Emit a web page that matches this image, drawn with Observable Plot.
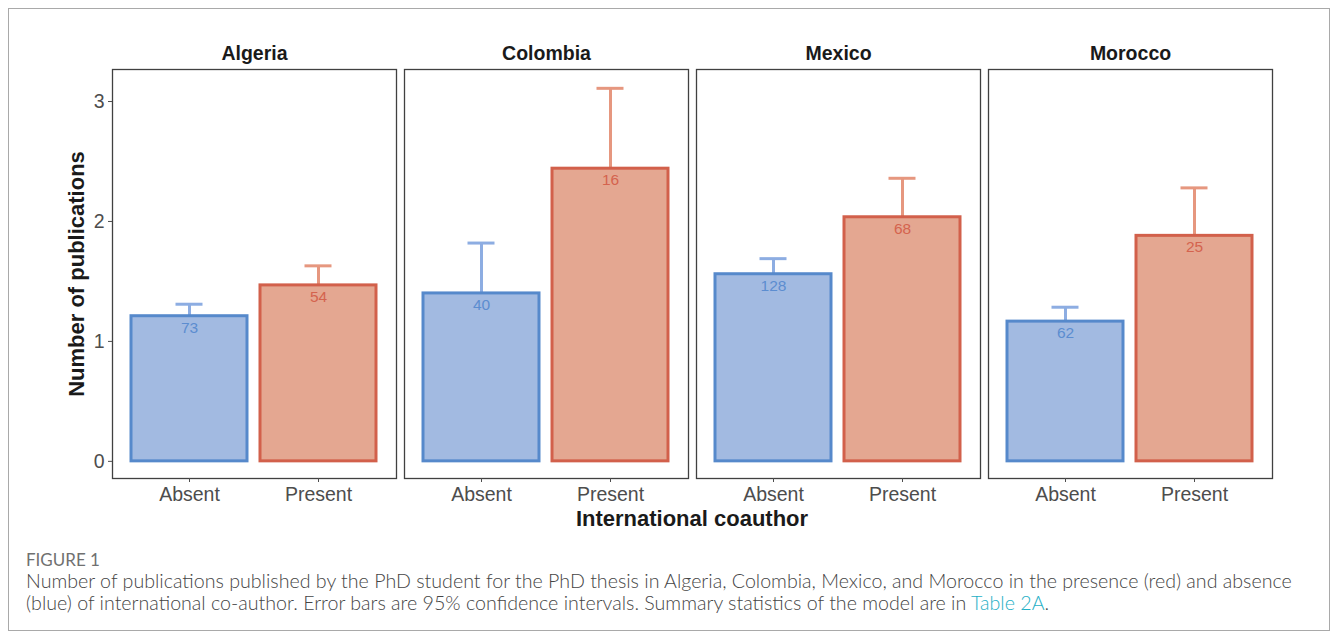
<!DOCTYPE html>
<html>
<head>
<meta charset="utf-8">
<script src="https://cdn.jsdelivr.net/npm/d3@7"></script>
<script src="https://cdn.jsdelivr.net/npm/@observablehq/plot@0.6"></script>
<style>
  body { margin: 0; background: #fff; }
  #wrap { position: relative; width: 1333px; height: 639px; overflow: hidden; background: #fff; }
  #chart { position: absolute; left: 0; top: 0; }
  #chart svg { background: transparent; }
  #frame { position: absolute; left: 8px; top: 8px; width: 1322px; height: 623px; box-sizing: border-box;
           border: 1px solid #a9a9a9; pointer-events: none; }
  .t { position: absolute; white-space: nowrap; line-height: 1; }
  .axt { font-family: "Liberation Sans", Arial, sans-serif; font-weight: bold; font-size: 22px; color: #1a1a1a; }
  .cap { font-family: Lato, "Open Sans", sans-serif; font-weight: 300; color: #454545; font-size: 17px; }
  .fig { font-family: Lato, "Open Sans", sans-serif; font-weight: 400; color: #707070; font-size: 13px; }
  .link { color: #1fb0c6; }
</style>
</head>
<body>
<div id="wrap">
  <div id="chart"></div>
  <div id="ylab" class="t axt">Number of publications</div>
  <div id="xlab" class="t axt">International coauthor</div>
  <div id="fig" class="t fig">FIGURE 1</div>
  <div id="c1" class="t cap">Number of publications published by the PhD student for the PhD thesis in Algeria, Colombia, Mexico, and Morocco in the presence (red) and absence</div>
  <div id="c2" class="t cap">(blue) of international co-author. Error bars are 95% confidence intervals. Summary statistics of the model are in <span class="link">Table 2A</span>.</div>
  <div id="frame"></div>
</div>
<script>
// ---- data ----
const countries = ["Algeria", "Colombia", "Mexico", "Morocco"];
const coauthor = ["Absent", "Present"];
const meanAbsent = [1.21, 1.40, 1.56, 1.165];
const meanPresent = [1.467, 2.44, 2.035, 1.88];
const upperAbsent = [1.31, 1.82, 1.69, 1.285];
const upperPresent = [1.63, 3.11, 2.36, 2.28];
const nAbsent = [73, 40, 128, 62];
const nPresent = [54, 16, 68, 25];
const yTicks = [0, 1, 2, 3];

// ---- styles ----
const fillC = {Absent: "#a2bae1", Present: "#e4a791"};
const strokeC = {Absent: "#5689cb", Present: "#d2604b"};
const errC = {Absent: "#8dade2", Present: "#e6977f"};
const textC = {Absent: "#5c8dd0", Present: "#d4634e"};

const rows = [];
countries.forEach((c, i) => {
  rows.push({country: c, coauthor: "Absent", mean: meanAbsent[i], upper: upperAbsent[i], n: nAbsent[i]});
  rows.push({country: c, coauthor: "Present", mean: meanPresent[i], upper: upperPresent[i], n: nPresent[i]});
});

const chart = Plot.plot({
  width: 1333,
  height: 540,
  marginLeft: 112,
  marginRight: 61,
  marginTop: 69,
  marginBottom: 62,
  style: {background: "transparent", fontFamily: "'Liberation Sans', Arial, sans-serif"},
  fx: {domain: countries, paddingInner: 8 / 292, paddingOuter: 0, axis: null, label: null},
  x: {domain: coauthor, paddingInner: 0.1, paddingOuter: 0.15, label: null},
  y: {domain: [-0.143, 3.267], label: null},
  color: {type: "identity"},
  marks: [
    Plot.frame({stroke: "#404040", strokeWidth: 1.3}),
    Plot.ruleX(rows, {fx: "country", x: "coauthor", y1: "mean", y2: "upper",
      stroke: d => errC[d.coauthor], strokeWidth: 3}),
    Plot.tickY(rows, {fx: "country", x: "coauthor", y: "upper",
      stroke: d => errC[d.coauthor], strokeWidth: 3, insetLeft: 44.5, insetRight: 44.5}),
    Plot.barY(rows, {fx: "country", x: "coauthor", y: "mean",
      fill: d => fillC[d.coauthor], stroke: d => strokeC[d.coauthor], strokeWidth: 3}),
    Plot.text(rows, {fx: "country", x: "coauthor", y: "mean", text: "n", dy: 11.5,
      fill: d => textC[d.coauthor], fontSize: 15.5}),
    Plot.text(countries, {fx: d => d, text: d => d, frameAnchor: "top", lineAnchor: "middle", dy: -16,
      fontSize: 19.5, fontWeight: "bold", fill: "#1a1a1a"}),
    Plot.axisY({ticks: yTicks, tickFormat: d3.format("d"), tickSize: 4, tickPadding: 4, fontSize: 19.5,
      color: "#4d4d4d", label: null}),
    Plot.axisX({tickSize: 4, tickPadding: 5, fontSize: 19.5, color: "#4d4d4d", label: null})
  ]
});
document.getElementById("chart").appendChild(chart);

// ---- text placement ----
function fitWidth(el, target) {
  const fs = parseFloat(getComputedStyle(el).fontSize);
  const w = el.getBoundingClientRect().width;
  el.style.fontSize = (fs * target / w) + "px";
}
function place(el, left, cy) {
  const h = el.getBoundingClientRect().height;
  el.style.left = left + "px";
  el.style.top = (cy - h / 2) + "px";
}
const c1 = document.getElementById("c1");
const c2 = document.getElementById("c2");
const fig = document.getElementById("fig");
fitWidth(c1, 1267);
c2.style.fontSize = c1.style.fontSize;
fitWidth(fig, 74);
place(fig, 26, 559);
place(c1, 26, 581);
place(c2, 26, 603);

const xl = document.getElementById("xlab");
xl.style.left = "692px"; xl.style.top = "519px";
xl.style.transform = "translate(-50%, -50%)";
const yl = document.getElementById("ylab");
yl.style.left = "77px"; yl.style.top = "274px";
yl.style.transform = "translate(-50%, -50%) rotate(-90deg)";
</script>
</body>
</html>
